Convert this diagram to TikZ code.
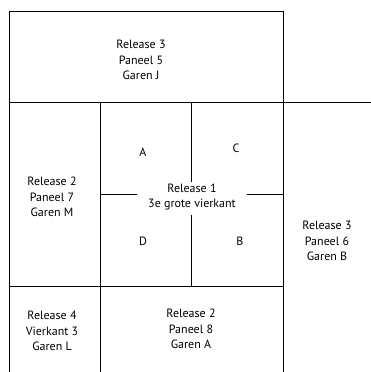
\documentclass[tikz,border=0pt]{standalone}
\usepackage{fontspec}
\setmainfont{PT Sans}
\usepackage{tikz}

\begin{document}
\begin{tikzpicture}[x=1pt, y=-1pt,
    wall/.style={line width=0.9pt},
    vak/.style={align=center, inner sep=0pt, font=\fontsize{12}{15.3}\selectfont}]
  \useasboundingbox (0,0) rectangle (371,372);

  \draw[wall] (9,372) -- (9,11) -- (283,11) -- (283,372);
  \draw[wall] (9,102) -- (371,102);
  \draw[wall] (9,286) -- (283,286);
  \draw[wall] (100,102) -- (100,372);
  \draw[wall] (191,102) -- (191,182);
  \draw[wall] (191,215) -- (191,286);
  \draw[wall] (100,194) -- (137,194);
  \draw[wall] (247,194) -- (283,194);

  \node[vak] (r3p5) at (141,60) {Release 3\\Paneel 5\\Garen J};
  \node[vak] (r2p7) at (52,197) {Release 2\\Paneel 7\\Garen M};
  \node[vak] (r1) at (192,197) {Release 1\\3e grote vierkant};
  \node[vak] (kwA) at (143,152) {A};
  \node[vak] (kwC) at (236,148) {C};
  \node[vak] (kwD) at (143,241) {D};
  \node[vak] (kwB) at (240,241) {B};
  \node[vak] (r3p6) at (327,241) {Release 3\\Paneel 6\\Garen B};
  \node[vak] (r4v3) at (52,331) {Release 4\\Vierkant 3\\Garen L};
  \node[vak] (r2p8) at (191,329) {Release 2\\Paneel 8\\Garen A};
\end{tikzpicture}
\end{document}
